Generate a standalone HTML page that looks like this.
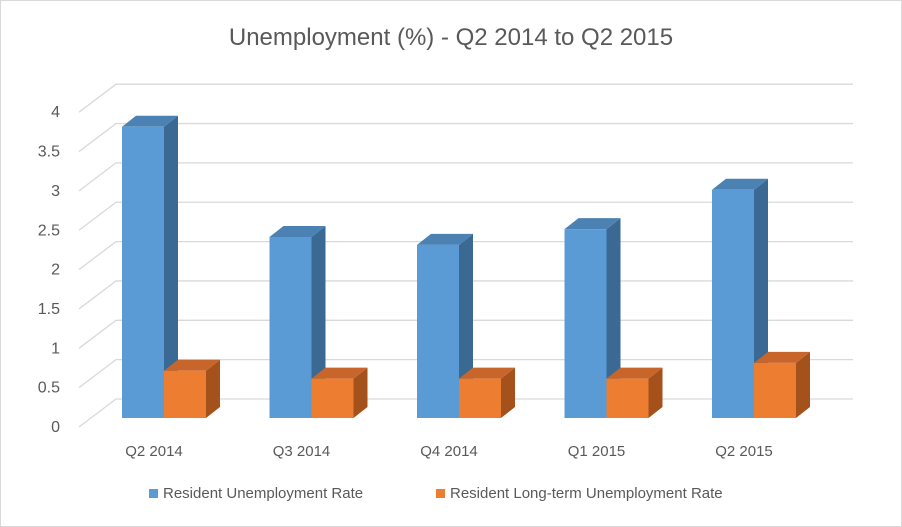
<!DOCTYPE html>
<html><head><meta charset="utf-8"><style>
body{margin:0;background:#fff}
svg{display:block;font-family:"Liberation Sans",sans-serif}
</style></head><body>
<svg id="chart" width="902" height="527">
<rect x="0.5" y="0.5" width="901" height="526" fill="#fff" stroke="#d9d9d9"/>
<text x="451" y="45" text-anchor="middle" font-size="24" fill="#595959">Unemployment (%) - Q2 2014 to Q2 2015</text>
<g id="grid"></g><g id="bars"></g><g id="labels"></g>
<g>
<rect x="149" y="489" width="9" height="9" fill="#5b9bd5"/>
<text x="163" y="498" font-size="15" fill="#595959">Resident Unemployment Rate</text>
<rect x="436" y="489" width="9" height="9" fill="#ed7d31"/>
<text x="450" y="498" font-size="15" fill="#595959">Resident Long-term Unemployment Rate</text>
</g>
</svg>
<script>
const categories=["Q2 2014","Q3 2014","Q4 2014","Q1 2015","Q2 2015"];
const residentRate=[3.7,2.3,2.2,2.4,2.9];
const longTermRate=[0.6,0.5,0.5,0.5,0.7];
const yTicks=[0,0.5,1,1.5,2,2.5,3,3.5,4];
const NS="http://www.w3.org/2000/svg";
const y0=418, perUnit=78.7, dx=37, dy=-28;
function y(v){return y0-v*perUnit;}
function mk(tag,attrs,parent){const e=document.createElementNS(NS,tag);for(const k in attrs)e.setAttribute(k,attrs[k]);parent.appendChild(e);return e;}
const grid=document.getElementById('grid'),bars=document.getElementById('bars'),labels=document.getElementById('labels');
yTicks.forEach(t=>{
  const fy=y(t)+9;
  const g=mk('g',{},grid);
  
  
  mk('polyline',{points:`79,${fy} ${79+dx},${fy+dy} 853,${fy+dy}`,fill:'none',stroke:'#d9d9d9','stroke-width':1.3},g);
  const tx=mk('text',{x:60,y:fy+5,'text-anchor':'end','font-size':16,fill:'#595959'},labels);
  tx.textContent=t;
  
  
});
const bw=42,ddx=14,ddy=-11,step=147.5,x0=122;
function bar(x,v,front,side,top,name){
  const g=mk('g',{},bars);
  
  
  const t=y(v);
  mk('polygon',{points:`${x+bw},${y0} ${x+bw+ddx},${y0+ddy} ${x+bw+ddx},${t+ddy} ${x+bw},${t}`,fill:side},g);
  mk('polygon',{points:`${x},${t} ${x+ddx},${t+ddy} ${x+bw+ddx},${t+ddy} ${x+bw},${t}`,fill:top},g);
  mk('rect',{x:x,y:t,width:bw,height:y0-t,fill:front},g);
}
categories.forEach((c,i)=>{
  const x=x0+i*step;
  bar(x,residentRate[i],'#5b9bd5','#3a6a93','#4b82b3','bar-resident-'+i);
  bar(x+bw,longTermRate[i],'#ed7d31','#a5511b','#c8652a','bar-longterm-'+i);
  const tx=mk('text',{x:x+bw-10,y:456,'text-anchor':'middle','font-size':15,fill:'#595959'},labels);
  tx.textContent=c;
  
  
});
</script>
</body></html>
